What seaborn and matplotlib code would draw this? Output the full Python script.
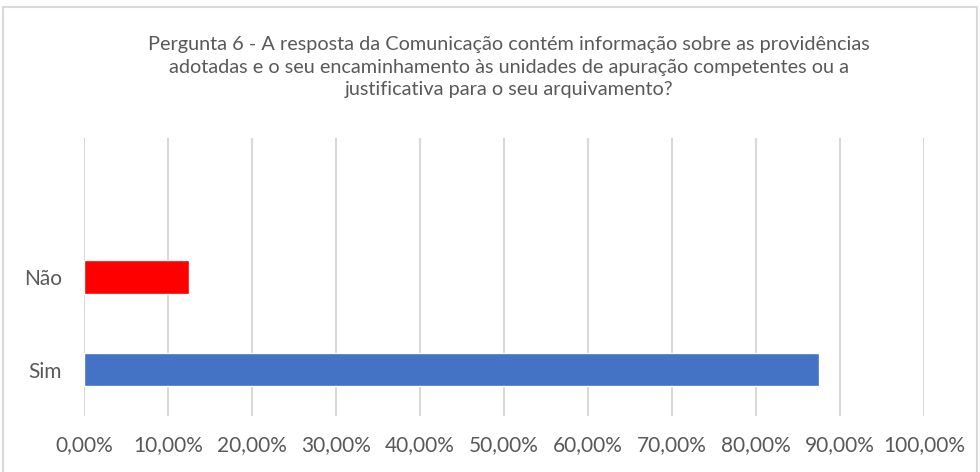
import pandas as pd
import seaborn as sns
import matplotlib.pyplot as plt
from matplotlib.patches import Rectangle
from matplotlib.ticker import FuncFormatter

# Data
categories = ['Não', 'Sim']
shares = [12.5, 87.5]
bar_colors = ['#FF0000', '#4472C4']

title = ('Pergunta 6 - A resposta da Comunicação contém informação sobre as providências\n'
         'adotadas e o seu encaminhamento às unidades de apuração competentes ou a\n'
         'justificativa para o seu arquivamento?')

df = pd.DataFrame({'resposta': categories, 'pct': shares})

sns.set_style('white')
plt.rcParams['font.family'] = ['Lato', 'DejaVu Sans']

fig = plt.figure(figsize=(9.8, 4.72), dpi=100)
ax = fig.add_axes([84 / 980, 56 / 472, 840 / 980, 278 / 472])

sns.barplot(data=df, x='pct', y='resposta', hue='resposta', palette=bar_colors,
            order=categories, width=0.36, legend=False, ax=ax, saturation=1)

# chart frame around everything
fig.patches.append(Rectangle((3 / 980, -0.05), 974 / 980, 1.05 - 7 / 472,
                             transform=fig.transFigure, fill=False,
                             edgecolor='#d9d9d9', linewidth=1.5))

ax.set_xlim(0, 100)
ax.set_ylim(1.5, -1.5)
ax.set_xticks(range(0, 101, 10))
ax.xaxis.set_major_formatter(FuncFormatter(lambda v, _: f'{v:.2f}%'.replace('.', ',')))
ax.grid(axis='x', color='#d9d9d9', linewidth=1.5)
ax.set_axisbelow(True)
for s in ax.spines.values():
    s.set_visible(False)
ax.tick_params(axis='both', length=0, labelsize=15, colors='#595959')
ax.tick_params(axis='x', pad=14)
ax.tick_params(axis='y', pad=16)
ax.set_xlabel('')
ax.set_ylabel('')

fig.text(509 / 980, 1 - 67 / 472, title, ha='center', va='center',
         fontsize=14.3, color='#595959', linespacing=1.42)

plt.savefig('out.png', dpi=100)
